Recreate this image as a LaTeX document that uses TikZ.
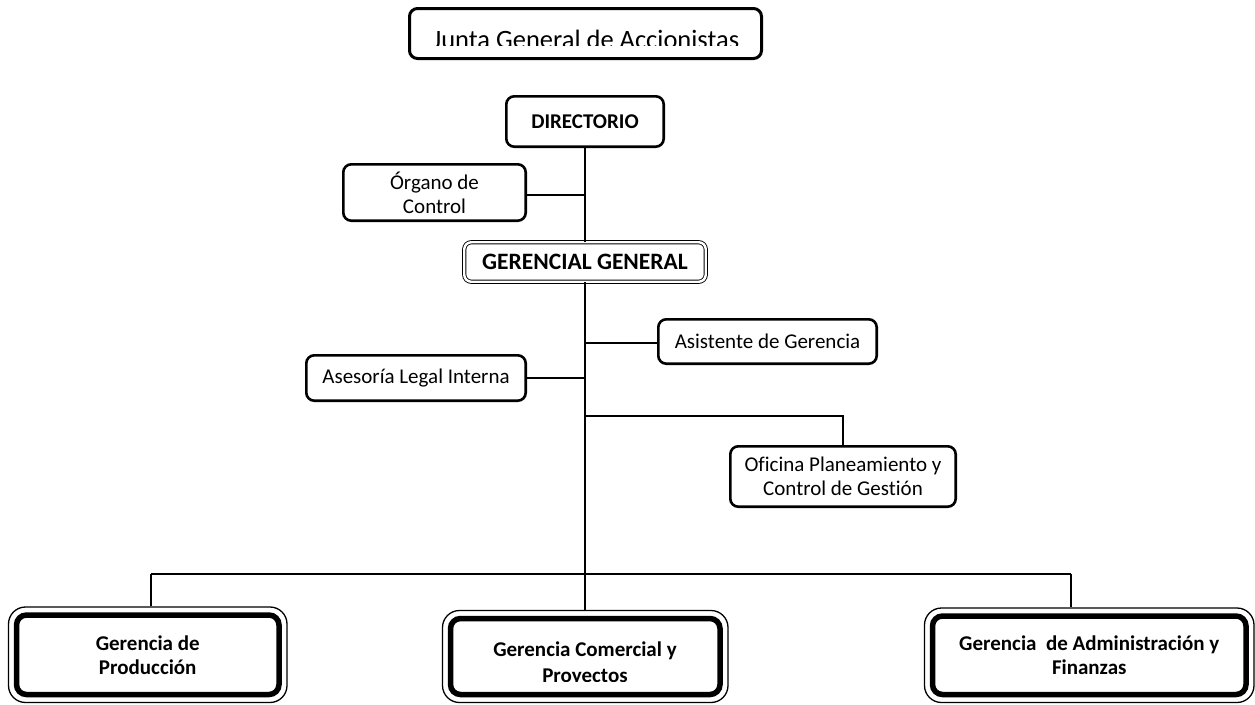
\documentclass[tikz,border=0pt]{standalone}
\usepackage{fontspec}
\setmainfont{Carlito}[Ligatures={NoCommon}]
\begin{document}
\begin{tikzpicture}[x=1pt,y=-1pt,
  box/.style={draw, rounded corners=8pt, line width=2.6pt, align=center, inner sep=0pt, font=\fontsize{21}{24}\selectfont},
  bbox/.style={box, font=\fontsize{21}{24}\selectfont\bfseries},
  gbox/.style={draw, double, double distance=2.4pt, line width=0.9pt, rounded corners=7pt, align=center, inner sep=0pt, font=\fontsize{23.5}{26}\selectfont\bfseries},
  thickbox/.style={draw, rounded corners=10pt, line width=5.5pt, align=center, inner sep=0pt, font=\fontsize{21}{24}\selectfont\bfseries},
  thinframe/.style={draw, rounded corners=17pt, line width=1.3pt, inner sep=0pt},
  conn/.style={line width=2pt}]
\useasboundingbox (0,0) rectangle (1255,704);
\clip (0,0) rectangle (1255,704);
\fill[white] (0,0) rectangle (1255,704);

% top
\node[box, line width=3pt, minimum width=352pt, minimum height=50pt] (junta) at (585.5,33.5) {};
\begin{scope}
  \clip (410,9) rectangle (761,45);
  \node[anchor=base, font=\fontsize{26.5}{30}\selectfont, inner sep=0pt] (juntatxt) at (586,48) {Junta General de Accionistas};
\end{scope}

\node[bbox, minimum width=157.4pt, minimum height=50.4pt] (dir) at (585,121.5) {DIRECTORIO};
\node[box, minimum width=182.4pt, minimum height=56.4pt] (org) at (434.5,192.5) {Órgano de\\Control};
\node[gbox, minimum width=241.5pt, minimum height=39.5pt] (gg) at (585,262) {GERENCIAL GENERAL};
\node[box, minimum width=218.4pt, minimum height=44.4pt] (asis) at (767.5,341.5) {Asistente de Gerencia};
\node[box, minimum width=219.4pt, minimum height=45.4pt] (ases) at (416,378) {Asesoría Legal Interna};
\node[box, minimum width=225.4pt, minimum height=60.4pt] (ofi) at (843,476.5) {Oficina Planeamiento y\\Control de Gestión};

% bottom boxes
\node[thinframe, minimum width=278.5pt, minimum height=95.5pt] (prodF) at (147.75,654.75) {};
\node[thickbox, minimum width=262.5pt, minimum height=79.5pt] (prod) at (147.75,654.75) {Gerencia de\\Producción};

\node[thinframe, minimum width=285.5pt, minimum height=92pt] (comF) at (585.25,656.5) {};
\node[thickbox, minimum width=269.5pt, minimum height=76pt] (com) at (585.25,656.5) {};
\begin{scope}
  \clip (455,622) rectangle (716,681.5);
  \node[align=center, inner sep=0pt, font=\fontsize{21}{26}\selectfont\bfseries] (comtxt) at (585,664) {Gerencia Comercial y\\Proyectos};
\end{scope}

\node[thinframe, minimum width=329.5pt, minimum height=94.5pt] (admF) at (1089.25,655.25) {};
\node[thickbox, minimum width=313.5pt, minimum height=78.5pt] (adm) at (1089.25,655.25) {Gerencia\ \ de Administración y\\Finanzas};

% connectors
\coordinate (hub) at (585,574);
\coordinate (barL) at (151,574);
\coordinate (barR) at (1071,574);
\coordinate (ofiTurn) at (843,416);

\draw[conn] (dir.south) -- (gg.north);
\draw[conn] ([yshift=-2.5pt]org.east) -- ([yshift=-2.5pt]org.east -| dir.south);
\draw[conn] (gg.south) -- (hub);
\draw[conn] ([yshift=-1.5pt]asis.west) -- ([yshift=-1.5pt]asis.west -| gg.south);
\draw[conn] (ases.east) -- (ases.east -| gg.south);
\draw[conn] (ofiTurn -| gg.south) -- (ofiTurn) -- (ofi.north);
\draw[conn] (barL) -- (barR);
\draw[conn] (barL) -- (barL |- prodF.north);
\draw[conn] (hub) -- (hub |- comF.north);
\draw[conn] (barR) -- (barR |- admF.north);
\end{tikzpicture}
\end{document}
